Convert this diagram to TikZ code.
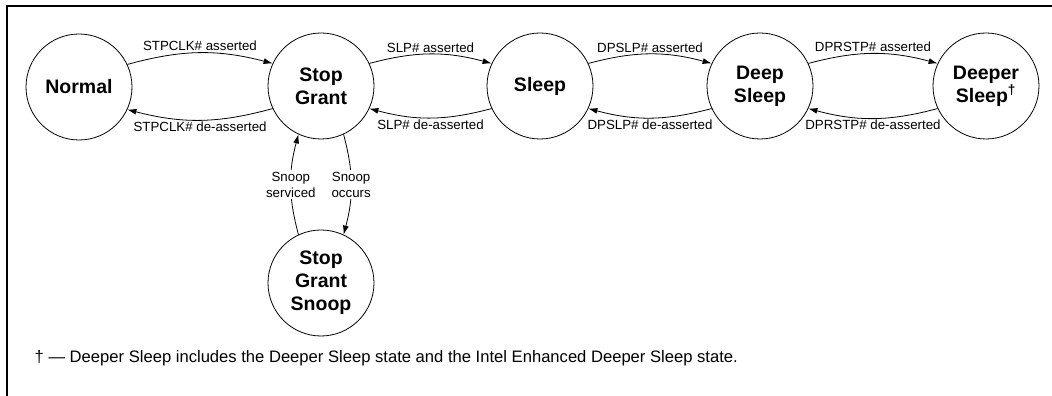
\documentclass[tikz,border=0pt]{standalone}
\usepackage{fontspec}
\setmainfont{Liberation Sans}
\usetikzlibrary{arrows.meta}

\tikzset{
  state/.style={draw, circle, minimum size=106pt, inner sep=0pt, align=center,
    line width=0.8pt, font=\fontsize{19.5}{23}\selectfont\bfseries},
  trans/.style={-{Latex[length=9pt,width=6pt]}, line width=0.8pt, bend left=15},
  lbl/.style={font=\fontsize{13.3}{16}\selectfont, inner sep=1.5pt},
}

\begin{document}
\begin{tikzpicture}[x=1pt,y=1pt]
	\useasboundingbox (0,0) rectangle (1052,396);
	% frame
	\draw[line width=2pt] (1052,390) -- (7,390) -- (7,0);

	\draw
	node[state] at (79,309) (normal) {Normal}
	node[state] at (321,310) (sg) {Stop\\Grant}
	node[state] at (540,310) (sleep) {Sleep}
	node[state] at (760,310) (deep) {Deep\\Sleep}
	node[state] at (986,310) (deeper) {Deeper\\Sleep\textsuperscript{†}}
	node[state] at (321,113) (snoop) {Stop\\Grant\\Snoop}

	(normal.25) edge[trans] node[lbl, above] {STPCLK\# asserted} (sg.155)
	(sg.205) edge[trans] node[lbl, below] {STPCLK\# de-asserted} (normal.335)
	(sg.25) edge[trans] node[lbl, above] {SLP\# asserted} (sleep.155)
	(sleep.205) edge[trans] node[lbl, below] {SLP\# de-asserted} (sg.335)
	(sleep.25) edge[trans] node[lbl, above] {DPSLP\# asserted} (deep.155)
	(deep.205) edge[trans] node[lbl, below] {DPSLP\# de-asserted} (sleep.335)
	(deep.25) edge[trans] node[lbl, above] {DPRSTP\# asserted} (deeper.155)
	(deeper.205) edge[trans] node[lbl, below] {DPRSTP\# de-asserted} (deep.335)

	(snoop.115) edge[trans] node[lbl, fill=white, align=center] {Snoop\\serviced} (sg.245)
	(sg.295) edge[trans] node[lbl, fill=white, align=center] {Snoop\\occurs} (snoop.65)
	;

	\node[lbl, font=\fontsize{16.6}{19}\selectfont, anchor=west] at (33,38) (note)
	{† — Deeper Sleep includes the Deeper Sleep state and the Intel Enhanced Deeper Sleep state.};
\end{tikzpicture}
\end{document}
